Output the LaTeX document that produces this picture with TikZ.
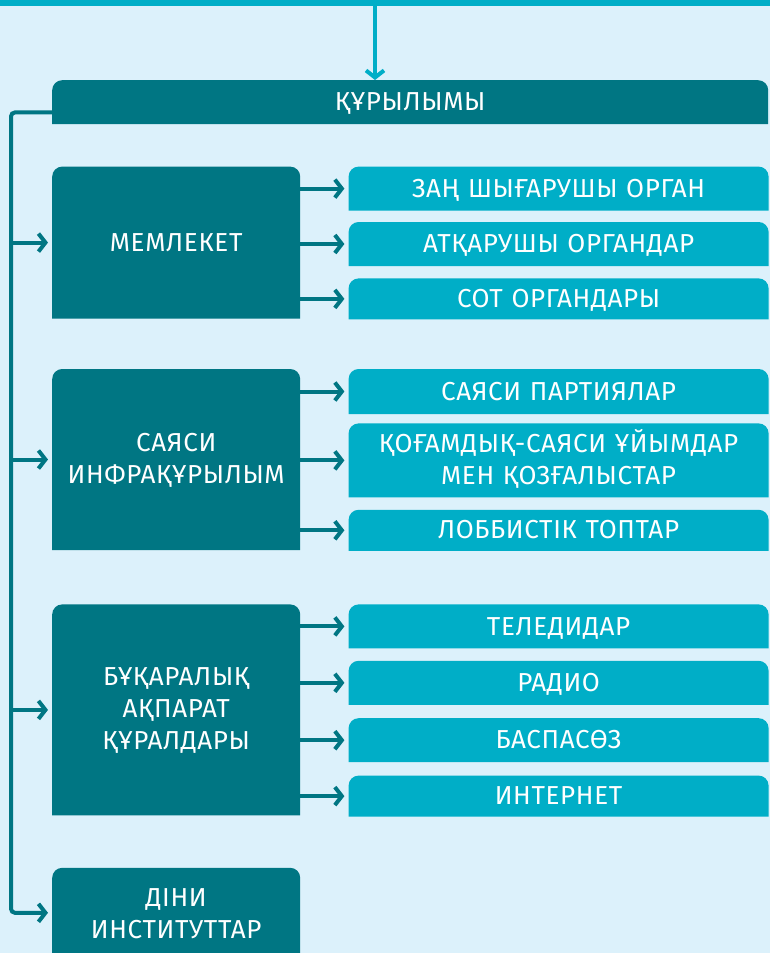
\documentclass[tikz,border=0pt]{standalone}
\usepackage{fontspec}
\setmainfont[LetterSpace=2.5]{Fira Sans}
\usetikzlibrary{arrows.meta, positioning}

\definecolor{bgblue}{HTML}{DCF1FB}
\definecolor{darkteal}{HTML}{007683}
\definecolor{lightteal}{HTML}{00AEC7}

\begin{document}
\begin{tikzpicture}[x=1pt, y=1pt, >={Straight Barb[length=7pt, width=18pt]}]
    % Define the styles
    \tikzset{
        tab/.style = {fill=bgblue, draw=none, inner sep=0pt, text=white, align=center,
            font=\fontsize{26}{32}\selectfont, text height=20pt,
            path picture={\fill[#1] (path picture bounding box.south west)
                -- ([yshift=-10pt]path picture bounding box.north west)
                arc[start angle=180, end angle=90, radius=10pt]
                -- ([xshift=-10pt]path picture bounding box.north east)
                arc[start angle=90, end angle=0, radius=10pt]
                -- (path picture bounding box.south east) -- cycle;}},
        oneline/.style = {text depth=2.8pt},
        block/.style = {tab=darkteal, text width=248pt, minimum height=#1},
        sub/.style = {tab=lightteal, text width=420pt, minimum height=#1},
        line/.style = {draw=darkteal, line width=4pt, ->, shorten >=4pt},
    }

    % Background
    \fill [bgblue] (0,0) rectangle (770,-953);
    \useasboundingbox (0,0) rectangle (770,-953);

    % Top band and header
    \node [fill=lightteal, minimum width=770pt, minimum height=6pt, inner sep=0pt, anchor=north west] (band) at (0,0) {};
    \node [tab=darkteal, oneline, text width=716pt, minimum height=44pt, anchor=north west] (hdr) at (52,-80) {ҚҰРЫЛЫМЫ};

    % Main blocks
    \node [block=152pt, oneline, below=42pt of hdr.south west, anchor=north west] (state) {МЕМЛЕКЕТ};
    \node [block=181pt, below=50pt of state.south west, anchor=north west] (infra) {САЯСИ\\ИНФРАҚҰРЫЛЫМ};
    \node [block=211pt, below=54pt of infra.south west, anchor=north west] (media) {БҰҚАРАЛЫҚ\\АҚПАРАТ\\ҚҰРАЛДАРЫ};
    \node [block=90pt, below=52pt of media.south west, anchor=north west] (relig) {ДІНИ\\ИНСТИТУТТАР};

    % Subblocks
    \node [sub=44pt, oneline, right=48pt of state.north east, anchor=north west] (law) {ЗАҢ ШЫҒАРУШЫ ОРГАН};
    \node [sub=44pt, oneline, below=11pt of law] (exec) {АТҚАРУШЫ ОРГАНДАР};
    \node [sub=41pt, oneline, below=12pt of exec] (court) {СОТ ОРГАНДАРЫ};

    \node [sub=45pt, oneline, right=48pt of infra.north east, anchor=north west] (party) {САЯСИ ПАРТИЯЛАР};
    \node [sub=74pt, below=9pt of party] (civic) {ҚОҒАМДЫҚ-САЯСИ ҰЙЫМДАР\\МЕН ҚОЗҒАЛЫСТАР};
    \node [sub=41pt, oneline, below=12pt of civic] (lobby) {ЛОББИСТІК ТОПТАР};

    \node [sub=44pt, oneline, right=48pt of media.north east, anchor=north west] (tv) {ТЕЛЕДИДАР};
    \node [sub=44pt, oneline, below=12pt of tv] (radio) {РАДИО};
    \node [sub=44pt, oneline, below=13pt of radio] (press) {БАСПАСӨЗ};
    \node [sub=41pt, oneline, below=13pt of press] (web) {ИНТЕРНЕТ};

    % Connecting lines
    \coordinate (bus) at (11,0);
    \coordinate (drop) at (375,0);
    \draw [line, draw=lightteal, shorten >=0pt] (drop |- band.south) -- (drop |- hdr.north);
    \draw [line, rounded corners=4pt] ([yshift=12pt]hdr.south west) -| (bus |- relig.west) -- (relig.west);
    \foreach \n in {state, infra, media}
        \draw [line] (bus |- \n.west) -- (\n.west);
    \foreach \m/\s in {state/law, state/exec, state/court, infra/party, infra/civic, infra/lobby,
                      media/tv, media/radio, media/press, media/web}
        \draw [line] (\m.east |- \s.west) -- (\s.west);

\end{tikzpicture}
\end{document}
